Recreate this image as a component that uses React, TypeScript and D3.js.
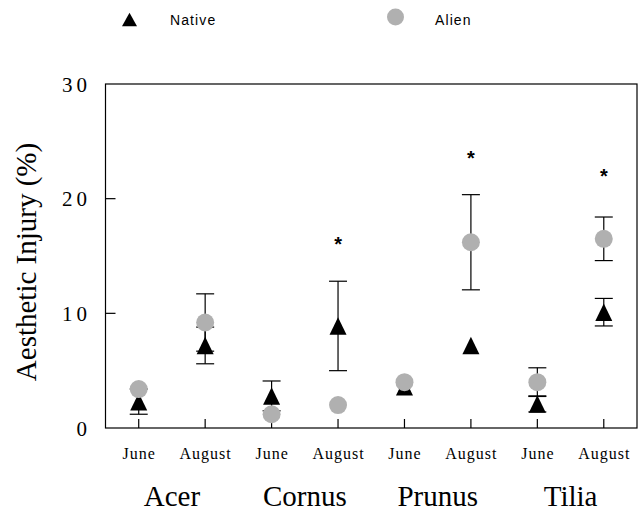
import { useEffect, useRef } from "react";
import * as d3 from "d3";

// Categories
const genera = ["Acer", "Cornus", "Prunus", "Tilia"];
const months = ["June", "August"];

// Series values (one per genus x month, in order)
const nativeMean = [2.3, 7.2, 2.8, 8.9, 3.6, 7.2, 2.1, 10.1];
const nativeErr = [1.1, 1.6, 1.3, 3.9, 0, 0, 0.7, 1.2];
const alienMean = [3.4, 9.2, 1.2, 2.0, 4.0, 16.2, 4.0, 16.5];
const alienErr = [0, 2.5, 0, 0, 0, 4.15, 1.25, 1.9];
const significant = [false, false, false, true, false, true, false, true];
const starValue = [0, 0, 0, 16.0, 0, 23.5, 0, 21.9];
const yTicks = [0, 10, 20, 30];

export default function App() {
  const svgRef = useRef(null);

  useEffect(() => {
    const svg = d3.select(svgRef.current);
    svg.selectAll("*").remove();

    const left = 105.5, right = 637, top = 84, bottom = 428;
    const keys = genera.flatMap(g => months.map(m => `${g}-${m}`));
    const x = d3.scalePoint().domain(keys).range([left, right]).padding(0.5);
    const y = d3.scaleLinear().domain([0, 30]).range([bottom, top]);
    const serif = "'Liberation Serif', 'Times New Roman', serif";
    const sans = "'Liberation Sans', Arial, sans-serif";

    // frame
    svg.append("rect")
      .attr("x", left).attr("y", top)
      .attr("width", right - left).attr("height", bottom - top)
      .attr("fill", "none").attr("stroke", "#000").attr("stroke-width", 1.2);

    // y ticks
    yTicks.forEach(t => {
      if (t > 0 && t < 30) {
        svg.append("line")
          .attr("x1", left).attr("x2", left + 10)
          .attr("y1", y(t)).attr("y2", y(t))
          .attr("stroke", "#000").attr("stroke-width", 1.2);
      }
      svg.append("text")
        .attr("x", 91).attr("y", y(t) + 7.5)
        .attr("text-anchor", "end")
        .attr("font-family", serif).attr("font-size", 21)
        .attr("letter-spacing", 4)
        .text(t);
    });

    // x ticks and labels
    keys.forEach((k, i) => {
      svg.append("line")
        .attr("x1", x(k)).attr("x2", x(k))
        .attr("y1", bottom).attr("y2", bottom - 9)
        .attr("stroke", "#000").attr("stroke-width", 1.2);
      svg.append("text")
        .attr("x", (x(k) as number) + 0.5).attr("y", 459)
        .attr("text-anchor", "middle")
        .attr("font-family", serif).attr("font-size", 16)
        .attr("letter-spacing", 1)
        .text(months[i % 2]);
    });

    genera.forEach(g => {
      const cx = ((x(`${g}-June`) as number) + (x(`${g}-August`) as number)) / 2;
      svg.append("text")
        .attr("x", cx).attr("y", 506)
        .attr("text-anchor", "middle")
        .attr("font-family", serif).attr("font-size", 29)
        .text(g);
    });

    // y axis title
    svg.append("text")
      .attr("transform", `translate(36,262) rotate(-90)`)
      .attr("text-anchor", "middle")
      .attr("font-family", serif).attr("font-size", 29)
      .text("Aesthetic Injury (%)");

    const errBar = (cx: number, m: number, e: number) => {
      if (!e) return;
      const g = svg.append("g").attr("stroke", "#000").attr("stroke-width", 1.2);
      g.append("line").attr("x1", cx).attr("x2", cx).attr("y1", y(m - e)).attr("y2", y(m + e));
      [m - e, m + e].forEach(v =>
        g.append("line").attr("x1", cx - 9).attr("x2", cx + 9).attr("y1", y(v)).attr("y2", y(v))
      );
    };

    keys.forEach((k, i) => {
      const cx = x(k) as number;
      errBar(cx, alienMean[i], alienErr[i]);
      errBar(cx, nativeMean[i], nativeErr[i]);
    });

    const triPath = (w: number, h: number) => `M0,${-h / 2}L${w / 2},${h / 2}L${-w / 2},${h / 2}Z`;
    keys.forEach((k, i) => {
      const cx = x(k) as number;
      svg.append("path")
        .attr("d", triPath(17, 17.5))
        .attr("transform", `translate(${cx},${y(nativeMean[i])})`)
        .attr("fill", "#000");
      svg.append("circle")
        .attr("cx", cx).attr("cy", y(alienMean[i]))
        .attr("r", 9).attr("fill", "#b0b0b0");
      if (significant[i]) {
        svg.append("text")
          .attr("x", cx).attr("y", y(starValue[i]) + 6)
          .attr("text-anchor", "middle")
          .attr("font-family", sans).attr("font-weight", "bold").attr("font-size", 20)
          .text("*");
      }
    });

    // legend
    svg.append("path").attr("d", triPath(15, 13.5)).attr("transform", "translate(129.5,19.5)").attr("fill", "#000");
    svg.append("text").attr("x", 170).attr("y", 24.5)
      .attr("font-family", sans).attr("font-size", 14).attr("letter-spacing", 1.1)
      .text("Native");
    svg.append("circle").attr("cx", 395.5).attr("cy", 17).attr("r", 8.5).attr("fill", "#b0b0b0");
    svg.append("text").attr("x", 435).attr("y", 24.5)
      .attr("font-family", sans).attr("font-size", 14).attr("letter-spacing", 1.1)
      .text("Alien");
  }, []);

  return (
    <svg ref={svgRef} width={638} height={514}
      style={{ position: "absolute", left: 0, top: 0, background: "#fff" }} />
  );
}
